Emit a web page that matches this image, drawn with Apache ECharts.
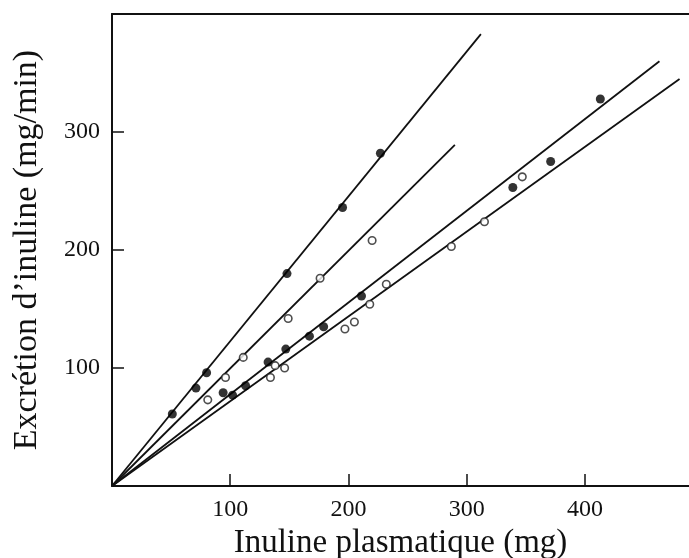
<!DOCTYPE html>
<html>
<head>
<meta charset="utf-8">
<script src="https://cdn.jsdelivr.net/npm/echarts@6/dist/echarts.min.js"></script>
<style>html,body{margin:0;padding:0;background:#fff}#c{width:689px;height:558px}</style>
</head>
<body>
<div id="c"></div>
<script>
// tick labels
var xTicks = [100, 200, 300, 400];
var yTicks = [100, 200, 300];

// filled dots, upper line
var f1X = [51, 71, 80, 148, 195, 227];
var f1Y = [61, 83, 96, 180, 236, 282];
// open dots, second line
var o2X = [81, 96, 111, 149, 176, 220];
var o2Y = [73, 92, 109, 142, 176, 208];
// filled dots, third line
var f3X = [94, 102, 113, 132, 147, 167, 179, 211, 339, 371, 413];
var f3Y = [79, 77, 85, 105, 116, 127, 135, 161, 253, 275, 328];
// open dots, fourth line
var o4X = [134, 138, 146, 197, 205, 218, 232, 287, 315, 347];
var o4Y = [92, 102, 100, 133, 139, 154, 171, 203, 224, 262];

// regression lines: end points (all start at origin)
var lineEndX = [312, 290, 463, 480];
var lineEndY = [383, 289, 360, 345];

function pairs(xs, ys) { return xs.map(function (x, i) { return [x, ys[i]]; }); }

var serif = 'Liberation Serif';
var series = [];
lineEndX.forEach(function (ex, i) {
  series.push({
    type: 'line', data: [[0, 0], [ex, lineEndY[i]]], symbol: 'none', silent: true,
    lineStyle: { color: '#111', width: 1.8 }, z: 2
  });
});
[[f1X, f1Y, true], [o2X, o2Y, false], [f3X, f3Y, true], [o4X, o4Y, false]].forEach(function (s) {
  series.push({
    type: 'scatter', data: pairs(s[0], s[1]), symbol: 'circle',
    symbolSize: s[2] ? 9 : 7.5,
    itemStyle: s[2] ? { color: '#000' } : { color: '#fff', borderColor: '#222', borderWidth: 1.6 },
    z: 3
  });
});

var chart = echarts.init(document.getElementById('c'));
chart.setOption({
  animation: false,
  backgroundColor: '#fff',
  grid: { left: 112, right: 0, top: 14, bottom: 72, containLabel: false, outerBoundsMode: 'none' },
  xAxis: [{
    type: 'value', min: 0, max: 488, interval: 100,
    name: 'Inuline plasmatique (mg)', nameLocation: 'middle', nameGap: 32,
    nameTextStyle: { fontFamily: serif, fontSize: 33, color: '#111' },
    axisLine: { show: true, lineStyle: { color: '#111', width: 2 } },
    axisTick: { show: true, inside: true, length: 12, customValues: xTicks, lineStyle: { color: '#111', width: 1.5 } },
    axisLabel: { customValues: xTicks, fontFamily: serif, fontSize: 24, color: '#111', margin: 12 },
    splitLine: { show: false }
  }, {
    type: 'value', position: 'top', min: 0, max: 488,
    axisLine: { show: true, lineStyle: { color: '#111', width: 2 } },
    axisTick: { show: false }, axisLabel: { show: false }, splitLine: { show: false }
  }],
  yAxis: {
    type: 'value', min: 0, max: 400, interval: 100,
    name: 'Excrétion d\u2019inuline (mg/min)', nameLocation: 'middle', nameGap: 68,
    nameTextStyle: { fontFamily: serif, fontSize: 34, color: '#111' },
    axisLine: { show: true, lineStyle: { color: '#111', width: 2 } },
    axisTick: { show: true, inside: true, length: 12, customValues: yTicks, lineStyle: { color: '#111', width: 1.5 } },
    axisLabel: { customValues: yTicks, fontFamily: serif, fontSize: 24, color: '#111', margin: 12 },
    splitLine: { show: false }
  },
  series: series
});
</script>
</body>
</html>
